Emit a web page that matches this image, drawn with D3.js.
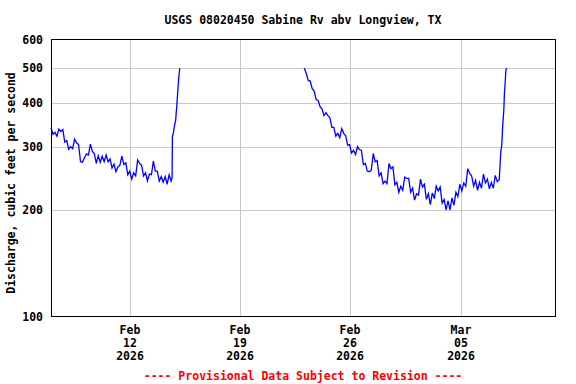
<!DOCTYPE html>
<html>
<head>
<meta charset="utf-8">
<script src="https://cdn.jsdelivr.net/npm/d3@7.9.0/dist/d3.min.js"></script>
<style>
  body { margin: 0; background: #fff; }
  svg text { font-family: "DejaVu Sans Mono", monospace; font-weight: bold; font-size: 11.5px; }
</style>
</head>
<body>
<svg width="576" height="384"></svg>
<script>
// hours after 2026-02-07 00:00 and discharge in cfs
const seg1Hours = [0, 3, 6, 9, 12, 15, 18, 21, 24, 27, 30, 33, 36, 39, 42, 45, 48, 51, 54, 57,
  60, 63, 66, 69, 72, 75, 78, 81, 84, 87, 90, 93, 96, 99, 102, 105, 108, 111, 114, 117,
  120, 123, 126, 129, 132, 135, 138, 141, 144, 147, 150, 153, 156, 159, 162, 165, 168, 171, 174, 177,
  180, 183, 184.5, 185, 186.4, 187.9, 190, 191.6, 193.1, 194.6, 196.2];
const seg1Flow = [340, 326, 330, 322, 337, 332, 336, 310, 313, 296, 301, 297, 316, 308, 305, 273, 272, 280, 287, 285,
  306, 292, 288, 270, 284, 272, 283, 273, 285, 273, 278, 262, 269, 256, 264, 267, 283, 268, 271, 251,
  257, 244, 254, 249, 276, 270, 267, 249, 254, 241, 252, 251, 274, 257, 257, 241, 248, 239, 248, 236,
  251, 241, 246, 322, 328, 342, 358, 390, 429, 468, 500];

const seg2Hours = [386, 389, 392, 395, 398, 401, 404, 407, 410, 413, 416, 419, 422, 425, 428, 431, 434, 437, 440, 443,
  446, 449, 452, 455, 458, 461, 464, 467, 470, 473, 476, 479, 482, 485, 488, 491, 494, 497, 500, 503,
  506, 509, 512, 515, 518, 521, 524, 527, 530, 533, 536, 539, 542, 545, 548, 551, 554, 557, 560, 563,
  566, 569, 572, 575, 578, 581, 584, 587, 590, 593, 596, 599, 602, 605, 608, 611, 614, 617, 620, 623,
  626, 629, 632, 635, 638, 641, 644, 647, 650, 653, 656, 659, 662, 665, 668, 671, 674, 677, 680, 683,
  684, 685.4, 686.9, 688.4, 690, 690.9, 692, 693, 693.9];
const seg2Flow = [500, 483, 462, 460, 438, 431, 408, 406, 390, 384, 368, 375, 368, 363, 341, 341, 322, 328, 319, 338,
  328, 323, 304, 305, 289, 294, 286, 301, 295, 294, 268, 270, 257, 256, 258, 288, 273, 275, 249, 254,
  237, 241, 237, 270, 261, 264, 235, 239, 224, 233, 227, 247, 245, 245, 224, 230, 213, 222, 220, 244,
  232, 236, 214, 222, 207, 223, 215, 233, 226, 232, 209, 214, 200, 212, 200, 216, 206, 224, 218, 236,
  226, 238, 233, 261, 253, 249, 233, 242, 227, 239, 230, 252, 238, 244, 229, 239, 230, 250, 240, 243,
  262, 291, 304, 347, 381, 424, 453, 488, 500];

const yTicks = [100, 200, 300, 400, 500, 600];
const xTicks = ["2026-02-12", "2026-02-19", "2026-02-26", "2026-03-05"];
const title = "USGS 08020450 Sabine Rv abv Longview, TX";
const yTitle = "Discharge, cubic feet per second";
const footer = "---- Provisional Data Subject to Revision ----";

const svg = d3.select("svg");
const mLeft = 51, mRight = 555, mTop = 40, mBottom = 317;
const t0 = new Date(2026, 1, 7);
const toDate = h => new Date(t0.getTime() + h * 3600e3);
const parse = s => { const [yy, mm, dd] = s.split("-").map(Number); return new Date(yy, mm - 1, dd); };

const x = d3.scaleTime().domain([t0, new Date(2026, 2, 11)]).range([mLeft, mRight]);
const y = d3.scaleLog().domain([100, 600]).range([mBottom, mTop]);

// grid
const grid = svg.append("g").attr("stroke", "#c8c8c8").attr("stroke-width", 1);
xTicks.map(parse).forEach(d => {
  const px = Math.round(x(d)) + 0.5;
  grid.append("line").attr("x1", px).attr("x2", px).attr("y1", mTop).attr("y2", mBottom);
});
yTicks.slice(1, -1).forEach(v => {
  const py = Math.round(y(v)) + 0.5;
  grid.append("line").attr("x1", mLeft).attr("x2", mRight).attr("y1", py).attr("y2", py);
});

// data
const line = d3.line().x(d => x(toDate(d[0]))).y(d => y(d[1]));
[[seg1Hours, seg1Flow], [seg2Hours, seg2Flow]].forEach(([hs, vs]) => {
  svg.append("path")
    .attr("d", line(hs.map((h, i) => [h, vs[i]])))
    .attr("fill", "none").attr("stroke", "#0000ff").attr("stroke-width", 1.3);
});

// frame
svg.append("rect").attr("x", mLeft + 0.5).attr("y", mTop - 0.5)
  .attr("width", mRight - mLeft).attr("height", mBottom - mTop)
  .attr("fill", "none").attr("stroke", "#000").attr("stroke-width", 1);

// y axis labels
const yAxis = d3.axisLeft(y).tickValues(yTicks).tickFormat(d3.format("d")).tickSize(0).tickPadding(8);
svg.append("g").attr("transform", `translate(${mLeft},0)`).call(yAxis)
  .call(g => g.select(".domain").remove())
  .call(g => g.attr("font-family", null).attr("font-size", null))
  .selectAll("text").attr("fill", "#000");

// x axis labels, three lines each
const fmtM = d3.timeFormat("%b"), fmtD = d3.timeFormat("%d"), fmtY = d3.timeFormat("%Y");
const xl = svg.append("g");
xTicks.map(parse).forEach(d => {
  const t = xl.append("text").attr("text-anchor", "middle").attr("x", Math.round(x(d)));
  [fmtM(d), fmtD(d), fmtY(d)].forEach((s, i) => {
    t.append("tspan").attr("x", Math.round(x(d))).attr("y", 334 + i * 13).text(s);
  });
});

svg.append("text").attr("x", 303).attr("y", 24).attr("text-anchor", "middle").text(title);
svg.append("text").attr("transform", "translate(15,183) rotate(-90)")
  .attr("text-anchor", "middle").text(yTitle);
svg.append("text").attr("x", 303).attr("y", 380).attr("text-anchor", "middle")
  .attr("fill", "#ff0000").text(footer);
</script>
</body>
</html>
